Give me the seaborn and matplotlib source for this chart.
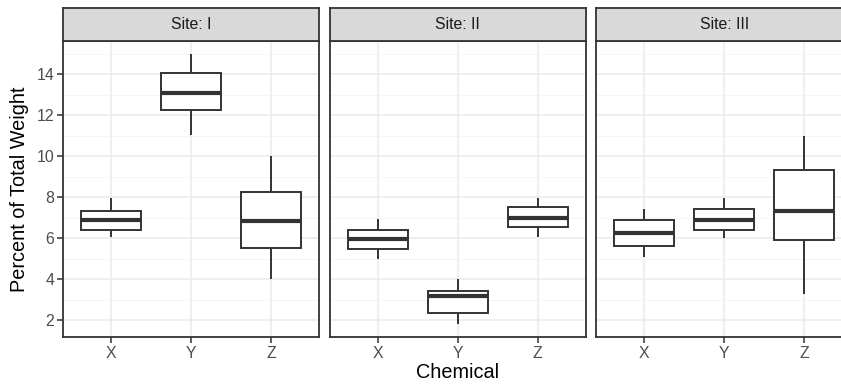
import numpy as np
import pandas as pd
import matplotlib
matplotlib.use("Agg")
import matplotlib.pyplot as plt
import seaborn as sns

sites = ["I", "II", "III"]
chemicals = ["X", "Y", "Z"]
# five-number summaries, site-major order (I:X,Y,Z, II:X,Y,Z, III:X,Y,Z)
lower = [6.05, 11.03, 4.02, 5.01, 1.84, 6.06, 5.09, 6.03, 3.30]
q1 = [6.42, 12.23, 5.54, 5.46, 2.36, 6.55, 5.61, 6.40, 5.90]
median = [6.87, 13.06, 6.83, 5.98, 3.17, 7.00, 6.27, 6.89, 7.35]
q3 = [7.33, 14.05, 8.25, 6.42, 3.42, 7.52, 6.89, 7.44, 9.34]
upper = [7.98, 14.96, 9.99, 6.96, 3.99, 7.98, 7.44, 7.98, 10.97]
y_ticks = [2, 4, 6, 8, 10, 12, 14]

rows = []
i = 0
for s in sites:
    for c in chemicals:
        for v in (lower[i], q1[i], median[i], q3[i], upper[i]):
            rows.append({"Site": s, "Chemical": c, "Value": v})
        i += 1
df = pd.DataFrame(rows)

sns.set_style("white")
plt.rcParams["font.family"] = ["Liberation Sans", "DejaVu Sans"]

W, H = 841, 385
fig = plt.figure(figsize=(W / 100, H / 100), dpi=100)

dmin, dmax = min(lower), max(upper)
rng = dmax - dmin
ylim = (dmin - 0.05 * rng, dmax + 0.05 * rng)

lefts = [63.3, 329.8, 596.3]
pw = 256.0
ptop, pbot = 41.0, 337.0
stop = 8.3
edge = "#333333"

for k, s in enumerate(sites):
    ax = fig.add_axes([lefts[k] / W, (H - pbot) / H, pw / W, (pbot - ptop) / H])
    sub = df[df["Site"] == s]
    sns.boxplot(data=sub, x="Chemical", y="Value", order=chemicals, ax=ax,
                width=0.75, whis=(0, 100), color="white", saturation=1,
                linecolor=edge, linewidth=1.4, showcaps=False,
                medianprops={"linewidth": 3.0, "color": edge},
                flierprops={"marker": ""})
    ax.set_xlim(-0.6, 2.6)
    ax.set_ylim(*ylim)
    ax.set_yticks(y_ticks)
    ax.set_yticks([3, 5, 7, 9, 11, 13, 15], minor=True)
    ax.set_axisbelow(True)
    ax.grid(True, which="major", color="#EBEBEB", linewidth=1.1)
    ax.grid(True, which="minor", color="#F2F2F2", linewidth=0.6)
    ax.set_facecolor("white")
    for sp in ax.spines.values():
        sp.set_visible(True)
        sp.set_color(edge)
        sp.set_linewidth(1.3)
    ax.set_xlabel("")
    ax.set_ylabel("")
    ax.tick_params(axis="x", which="major", length=4, width=1.1, color=edge,
                   labelsize=11.4, labelcolor="#4D4D4D", pad=2.5, bottom=True)
    ax.tick_params(axis="y", which="minor", length=0)
    if k == 0:
        ax.tick_params(axis="y", which="major", length=4, width=1.1, color=edge,
                       labelsize=11.4, labelcolor="#4D4D4D", pad=2.5, left=True)
    else:
        ax.tick_params(axis="y", which="major", length=0, labelleft=False)
    # strip
    sax = fig.add_axes([lefts[k] / W, (H - ptop) / H, pw / W, (ptop - stop) / H])
    sax.set_facecolor("#D9D9D9")
    sax.set_xticks([])
    sax.set_yticks([])
    for sp in sax.spines.values():
        sp.set_visible(True)
        sp.set_color(edge)
        sp.set_linewidth(1.3)
    sax.text(0.5, 0.5, f"Site: {s}", ha="center", va="center",
             fontsize=11.4, color="#1A1A1A", transform=sax.transAxes)

fig.text(19.5 / W, (H - 189) / H, "Percent of Total Weight", rotation=90,
         ha="center", va="center", fontsize=14.3, color="black")
fig.text(457.8 / W, (H - 372) / H, "Chemical", ha="center", va="center",
         fontsize=14.3, color="black")

fig.savefig("out.png", dpi=100, facecolor="white")
